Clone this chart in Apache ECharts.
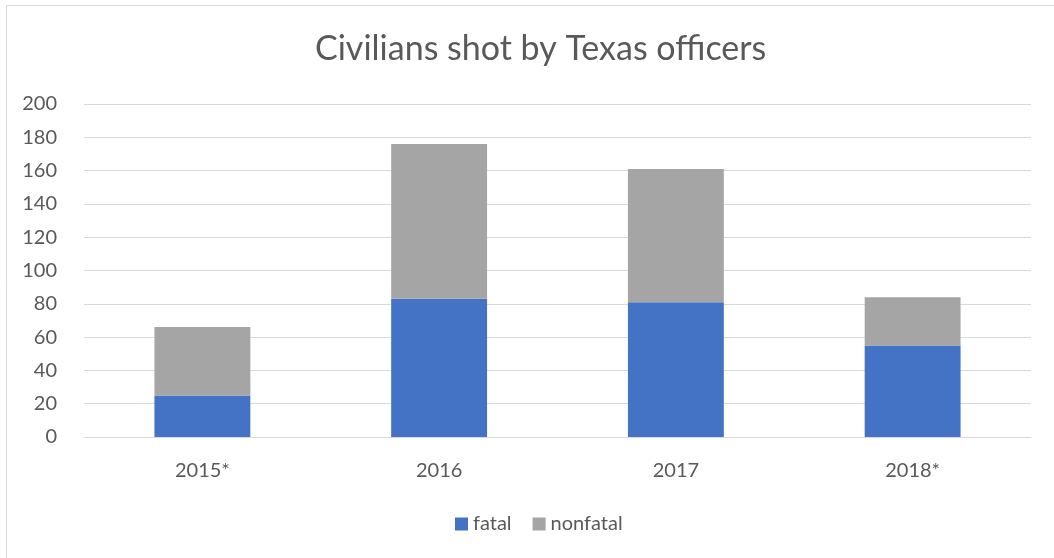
<!DOCTYPE html>
<html><head><meta charset="utf-8">
<script src="https://cdn.jsdelivr.net/npm/echarts@6/dist/echarts.min.js"></script>
<style>html,body{margin:0;padding:0;background:#fff}#c{width:1054px;height:558px}</style>
</head><body><div id="c"></div>
<script>
const categories = ['2015*', '2016', '2017', '2018*'];
const fatal = [25, 83, 81, 55];
const nonfatal = [41, 93, 80, 29];
const yTicks = [0, 20, 40, 60, 80, 100, 120, 140, 160, 180, 200];

const FONT = 'Lato, "Open Sans", sans-serif';
const chart = echarts.init(document.getElementById('c'), null, {renderer: 'canvas'});
chart.setOption({
  backgroundColor: '#fff',
  animation: false,
  textStyle: {fontFamily: FONT},
  graphic: [{type: 'rect', shape: {x: 6.5, y: 5.5, width: 1100, height: 600}, style: {fill: null, stroke: '#d9d9d9', lineWidth: 1}}],
  title: {text: 'Civilians shot by Texas officers', left: 310, top: 27,
    textStyle: {fontFamily: FONT, fontSize: 34, fontWeight: 'normal', color: '#595959'}},
  legend: {top: 509, left: 450, itemWidth: 13, itemHeight: 13, itemGap: 21, icon: 'rect',
    textStyle: {fontFamily: FONT, fontSize: 20, color: '#595959'}, data: ['fatal', 'nonfatal']},
  grid: {left: 84, right: 23, top: 104, bottom: 121},
  xAxis: {type: 'category', data: categories,
    axisLine: {lineStyle: {color: '#d9d9d9'}}, axisTick: {show: false},
    axisLabel: {fontFamily: FONT, fontSize: 20, color: '#595959', margin: 24}},
  yAxis: {type: 'value', min: yTicks[0], max: yTicks[yTicks.length - 1], interval: 20,
    axisLine: {show: false}, axisTick: {show: false},
    splitLine: {lineStyle: {color: '#d9d9d9'}},
    axisLabel: {fontFamily: FONT, fontSize: 20, color: '#595959', margin: 27}},
  series: [
    {name: 'fatal', type: 'bar', stack: 'a', data: fatal, barWidth: '40.5%', itemStyle: {color: '#4472c4'}},
    {name: 'nonfatal', type: 'bar', stack: 'a', data: nonfatal, barWidth: '40.5%', itemStyle: {color: '#a5a5a5'}}
  ]
});
</script></body></html>
